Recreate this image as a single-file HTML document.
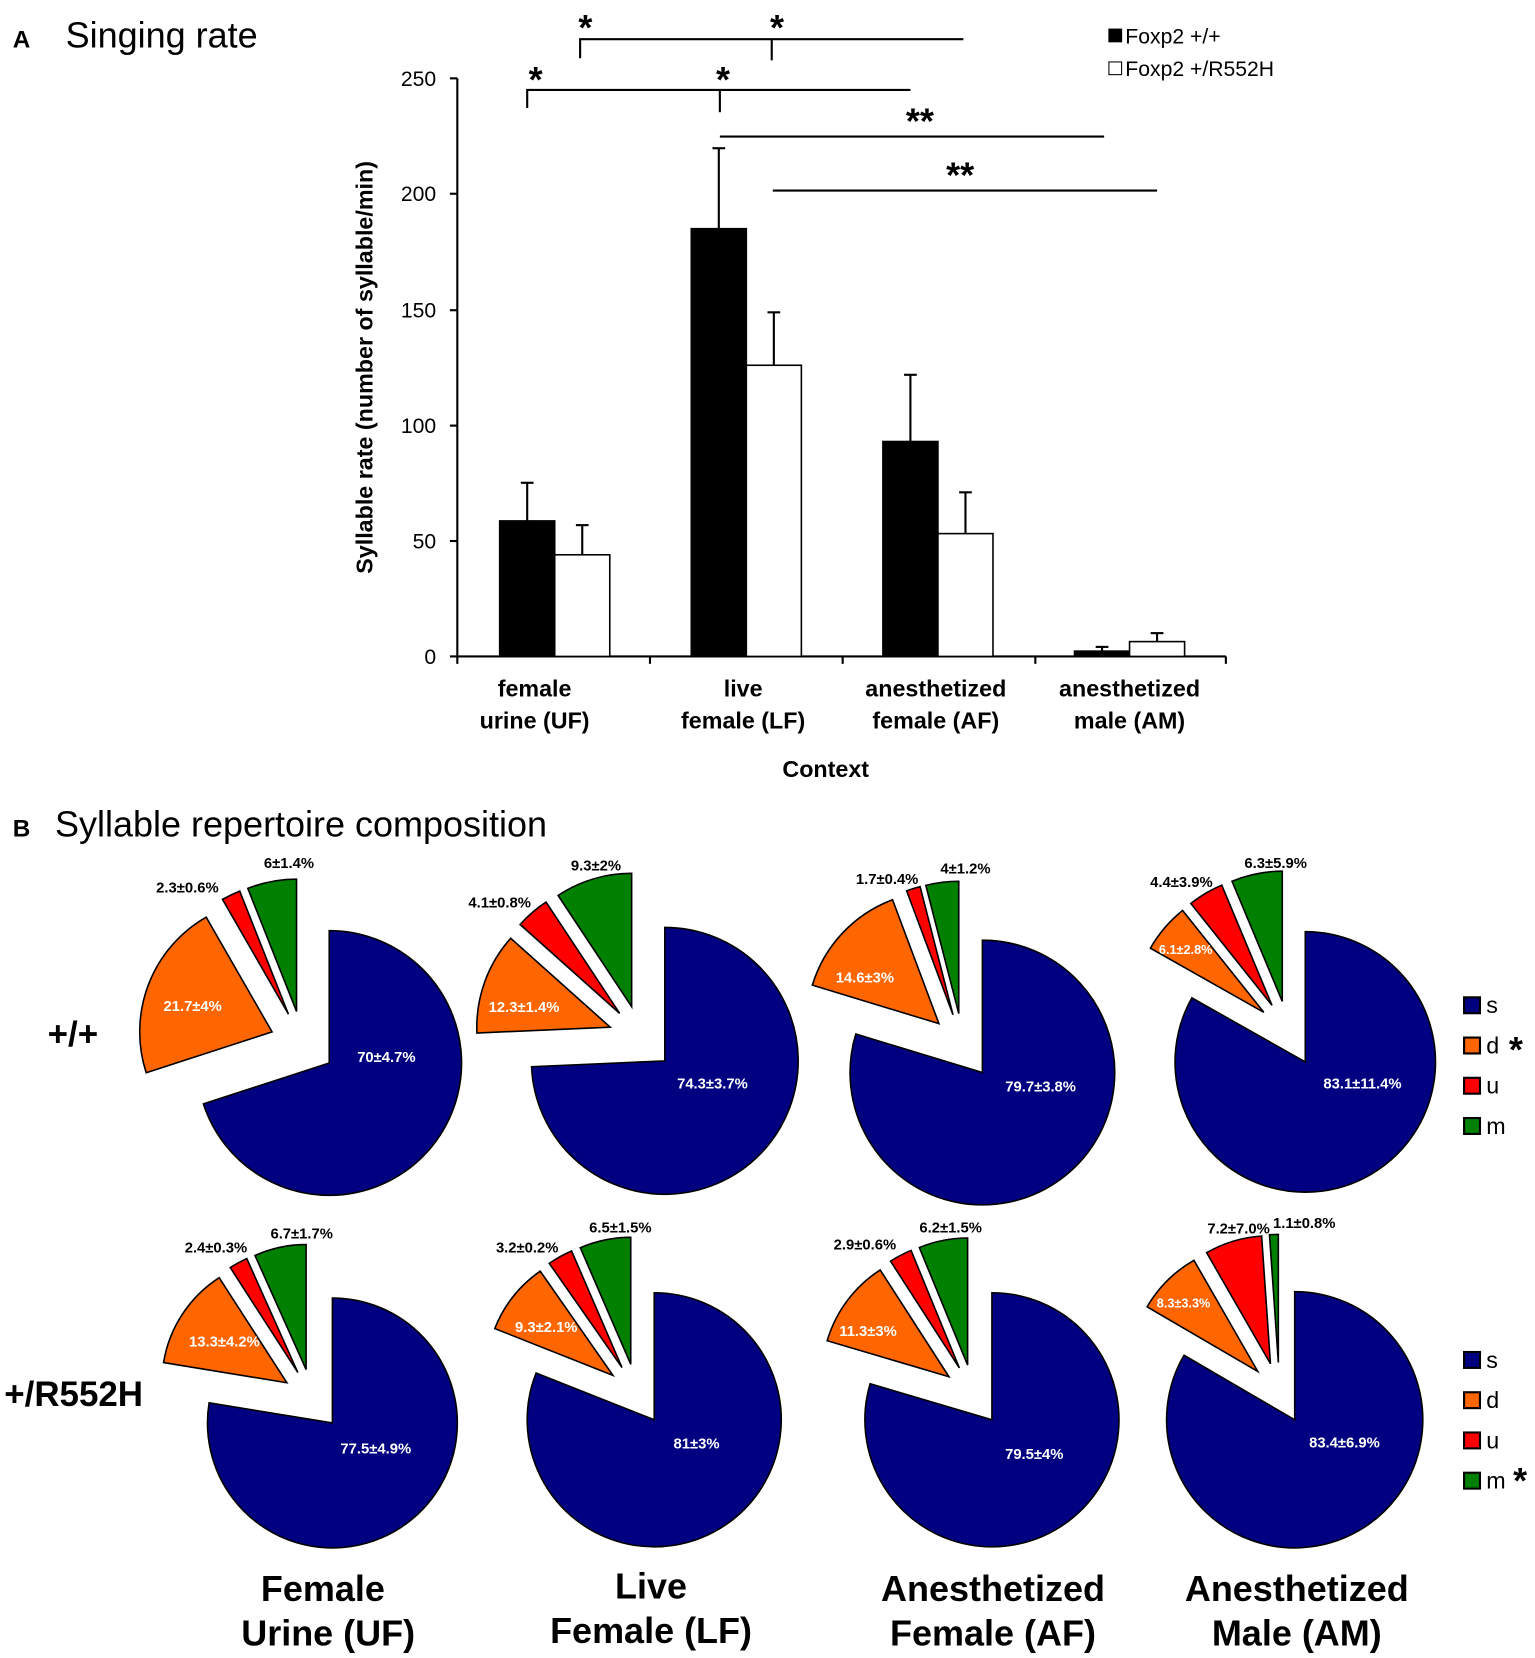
<!DOCTYPE html>
<html><head><meta charset="utf-8"><style>
html,body{margin:0;padding:0;background:#fff;}
svg{display:block;}
text{font-family:"Liberation Sans",Arial,sans-serif;}
.b{font-weight:bold;}
.sl{font-size:14px;font-weight:bold;fill:#000;text-anchor:middle;}
.wl{font-size:14px;font-weight:bold;fill:#fff;text-anchor:middle;}
</style></head><body>
<svg id="s" width="1535" height="1658" viewBox="0 0 1450 1566" preserveAspectRatio="none" xmlns="http://www.w3.org/2000/svg">
<!-- Panel A -->
<text x="12" y="45" font-size="23" class="b">A</text>
<text x="62" y="45" font-size="34">Singing rate</text>
<g stroke="#000" stroke-width="2" fill="none">
<line x1="432" y1="74" x2="432" y2="627"/>
<line x1="432" y1="620" x2="1158" y2="620"/>
<line x1="425" y1="74" x2="432" y2="74"/><line x1="425" y1="183" x2="432" y2="183"/>
<line x1="425" y1="293" x2="432" y2="293"/><line x1="425" y1="402" x2="432" y2="402"/>
<line x1="425" y1="511" x2="432" y2="511"/><line x1="425" y1="620" x2="432" y2="620"/>
<line x1="614" y1="620" x2="614" y2="627"/><line x1="796" y1="620" x2="796" y2="627"/>
<line x1="978" y1="620" x2="978" y2="627"/><line x1="1158" y1="620" x2="1158" y2="627"/>
<polyline points="548,55 548,37 910,37"/><line x1="729" y1="37" x2="729" y2="57"/>
<polyline points="498,102 498,85 860,85"/><line x1="680" y1="85" x2="680" y2="106"/>
<line x1="680" y1="129" x2="1043" y2="129"/>
<line x1="730" y1="180" x2="1093" y2="180"/>
<line x1="498" y1="492" x2="498" y2="456"/><line x1="492" y1="456" x2="504" y2="456"/>
<line x1="550" y1="524" x2="550" y2="496"/><line x1="544" y1="496" x2="556" y2="496"/>
<line x1="679" y1="216" x2="679" y2="140"/><line x1="673" y1="140" x2="685" y2="140"/>
<line x1="731" y1="345" x2="731" y2="295"/><line x1="725" y1="295" x2="737" y2="295"/>
<line x1="860" y1="417" x2="860" y2="354"/><line x1="854" y1="354" x2="866" y2="354"/>
<line x1="912" y1="504" x2="912" y2="465"/><line x1="906" y1="465" x2="918" y2="465"/>
<line x1="1041" y1="615" x2="1041" y2="611"/><line x1="1035" y1="611" x2="1047" y2="611"/>
<line x1="1093" y1="606" x2="1093" y2="598"/><line x1="1087" y1="598" x2="1099" y2="598"/>
</g>
<g stroke="#000" stroke-width="1.5">
<rect x="472" y="492" width="52" height="128" fill="#000"/>
<rect x="524" y="524" width="52" height="96" fill="#fff"/>
<rect x="653" y="216" width="52" height="404" fill="#000"/>
<rect x="705" y="345" width="52" height="275" fill="#fff"/>
<rect x="834" y="417" width="52" height="203" fill="#000"/>
<rect x="886" y="504" width="52" height="116" fill="#fff"/>
<rect x="1015" y="615" width="52" height="5" fill="#000"/>
<rect x="1067" y="606" width="52" height="14" fill="#fff"/>
</g>
<g font-size="34" class="b" text-anchor="middle">
<text x="553" y="38">*</text><text x="734" y="38">*</text>
<text x="506" y="87">*</text><text x="683" y="87">*</text>
<text x="869" y="126">**</text><text x="907" y="177">**</text>
</g>
<g font-size="20" text-anchor="end">
<text x="412" y="81">250</text><text x="412" y="190">200</text><text x="412" y="300">150</text>
<text x="412" y="409">100</text><text x="412" y="518">50</text><text x="412" y="627">0</text>
</g>
<text transform="translate(352,347) rotate(-90)" font-size="22" class="b" text-anchor="middle">Syllable rate (number of syllable/min)</text>
<g font-size="22" class="b" text-anchor="middle">
<text x="505" y="658">female</text><text x="505" y="688">urine (UF)</text>
<text x="702" y="658">live</text><text x="702" y="688">female (LF)</text>
<text x="884" y="658">anesthetized</text><text x="884" y="688">female (AF)</text>
<text x="1067" y="658">anesthetized</text><text x="1067" y="688">male (AM)</text>
<text x="780" y="734">Context</text>
</g>
<rect x="1047" y="27" width="13" height="13" fill="#000"/>
<rect x="1047.5" y="58.5" width="12" height="12" fill="#fff" stroke="#000" stroke-width="1"/>
<text x="1063" y="41" font-size="20">Foxp2 +/+</text>
<text x="1063" y="72" font-size="20">Foxp2 +/R552H</text>

<!-- Panel B -->
<text x="12" y="790" font-size="23" class="b">B</text>
<text x="52" y="790" font-size="34">Syllable repertoire composition</text>
<text x="45" y="988" font-size="33" class="b">+/+</text>
<text x="4" y="1328" font-size="33" class="b">+/R552H</text>
<g id="pies" stroke="#000" stroke-width="1.5"></g>

<g>
<text class="wl" x="182" y="955">21.7±4%</text><text class="wl" x="365" y="1003">70±4.7%</text>
<text class="sl" x="177" y="843">2.3±0.6%</text><text class="sl" x="273" y="820">6±1.4%</text>
<text class="wl" x="495" y="956">12.3±1.4%</text><text class="wl" x="673" y="1028">74.3±3.7%</text>
<text class="sl" x="472" y="857">4.1±0.8%</text><text class="sl" x="563" y="822">9.3±2%</text>
<text class="wl" x="817" y="928">14.6±3%</text><text class="wl" x="983" y="1031">79.7±3.8%</text>
<text class="sl" x="838" y="835">1.7±0.4%</text><text class="sl" x="912" y="825">4±1.2%</text>
<text class="wl" x="1120" y="901" style="font-size:12px">6.1±2.8%</text><text class="wl" x="1287" y="1028">83.1±11.4%</text>
<text class="sl" x="1116" y="838">4.4±3.9%</text><text class="sl" x="1205" y="820">6.3±5.9%</text>

<text class="wl" x="212" y="1272">13.3±4.2%</text><text class="wl" x="355" y="1373">77.5±4.9%</text>
<text class="sl" x="204" y="1183">2.4±0.3%</text><text class="sl" x="285" y="1170">6.7±1.7%</text>
<text class="wl" x="516" y="1258">9.3±2.1%</text><text class="wl" x="658" y="1368">81±3%</text>
<text class="sl" x="498" y="1183">3.2±0.2%</text><text class="sl" x="586" y="1164">6.5±1.5%</text>
<text class="wl" x="820" y="1262">11.3±3%</text><text class="wl" x="977" y="1378">79.5±4%</text>
<text class="sl" x="817" y="1180">2.9±0.6%</text><text class="sl" x="898" y="1164">6.2±1.5%</text>
<text class="wl" x="1118" y="1235" style="font-size:12px">8.3±3.3%</text><text class="wl" x="1270" y="1367">83.4±6.9%</text>
<text class="sl" x="1170" y="1165">7.2±7.0%</text><text class="sl" x="1232" y="1160">1.1±0.8%</text>
</g>

<g stroke="#000" stroke-width="2">
<rect x="1383" y="942" width="15" height="15" fill="#000080"/>
<rect x="1383" y="980" width="15" height="15" fill="#ff6600"/>
<rect x="1383" y="1018" width="15" height="15" fill="#ff0000"/>
<rect x="1383" y="1056" width="15" height="15" fill="#008000"/>
<rect x="1383" y="1277" width="15" height="15" fill="#000080"/>
<rect x="1383" y="1315" width="15" height="15" fill="#ff6600"/>
<rect x="1383" y="1353" width="15" height="15" fill="#ff0000"/>
<rect x="1383" y="1391" width="15" height="15" fill="#008000"/>
</g>
<g font-size="22">
<text x="1404" y="957">s</text><text x="1404" y="995">d</text><text x="1404" y="1033">u</text><text x="1404" y="1071">m</text>
<text x="1404" y="1292">s</text><text x="1404" y="1330">d</text><text x="1404" y="1368">u</text><text x="1404" y="1406">m</text>
</g>
<text x="1432" y="1003" font-size="34" class="b" text-anchor="middle">*</text>
<text x="1436" y="1410" font-size="34" class="b" text-anchor="middle">*</text>

<g font-size="34" class="b" text-anchor="middle">
<text x="305" y="1512">Female</text><text x="310" y="1554">Urine (UF)</text>
<text x="615" y="1510">Live</text><text x="615" y="1552">Female (LF)</text>
<text x="938" y="1512">Anesthetized</text><text x="938" y="1554">Female (AF)</text>
<text x="1225" y="1512">Anesthetized</text><text x="1225" y="1554">Male (AM)</text>
</g>
</svg>
<script>
(function(){
var g=document.getElementById('pies');
var cols=['#000080','#ff6600','#ff0000','#008000'];
var pies=[
 {v:[311,1004],r:125,d:31,p:[70,21.7,2.3,6]},
 {v:[628,1002],r:126,d:31,p:[74.3,12.3,4.1,9.3]},
 {v:[928,1013],r:125,d:31,p:[79.7,14.6,1.7,4]},
 {v:[1233,1003],r:123,d:31,p:[83.1,6.1,4.4,6.3]},
 {v:[314,1344],r:118,d:29,p:[77.5,13.3,2.4,6.7]},
 {v:[618,1341],r:120,d:29,p:[81,9.3,3.2,6.5]},
 {v:[937,1341],r:120,d:29,p:[79.5,11.3,2.9,6.2]},
 {v:[1223,1341],r:121,d:29,p:[83.4,8.3,7.2,1.1]}
];
function pt(cx,cy,r,a){a=a*Math.PI/180;return [cx+r*Math.sin(a),cy-r*Math.cos(a)];}
pies.forEach(function(P){
 var s=P.p.reduce(function(a,b){return a+b;},0);
 var bm=P.p[0]/s*180;
 var bd=pt(0,0,1,bm);
 var cx=P.v[0]-P.d*bd[0], cy=P.v[1]-P.d*bd[1];
 var a0=0;
 P.p.forEach(function(v,i){
  var sw=v/s*360, a1=a0+sw, m=(a0+a1)/2;
  var dd=pt(0,0,1,m);
  var x=cx+P.d*dd[0], y=cy+P.d*dd[1];
  var A=pt(x,y,P.r,a0), B=pt(x,y,P.r,a1);
  var path=document.createElementNS('http://www.w3.org/2000/svg','path');
  path.setAttribute('d','M'+x+','+y+' L'+A[0]+','+A[1]+' A'+P.r+','+P.r+' 0 '+(sw>180?1:0)+' 1 '+B[0]+','+B[1]+' Z');
  path.setAttribute('fill',cols[i]);
  g.appendChild(path);
  a0=a1;
 });
});
})();
</script>
</body></html>
